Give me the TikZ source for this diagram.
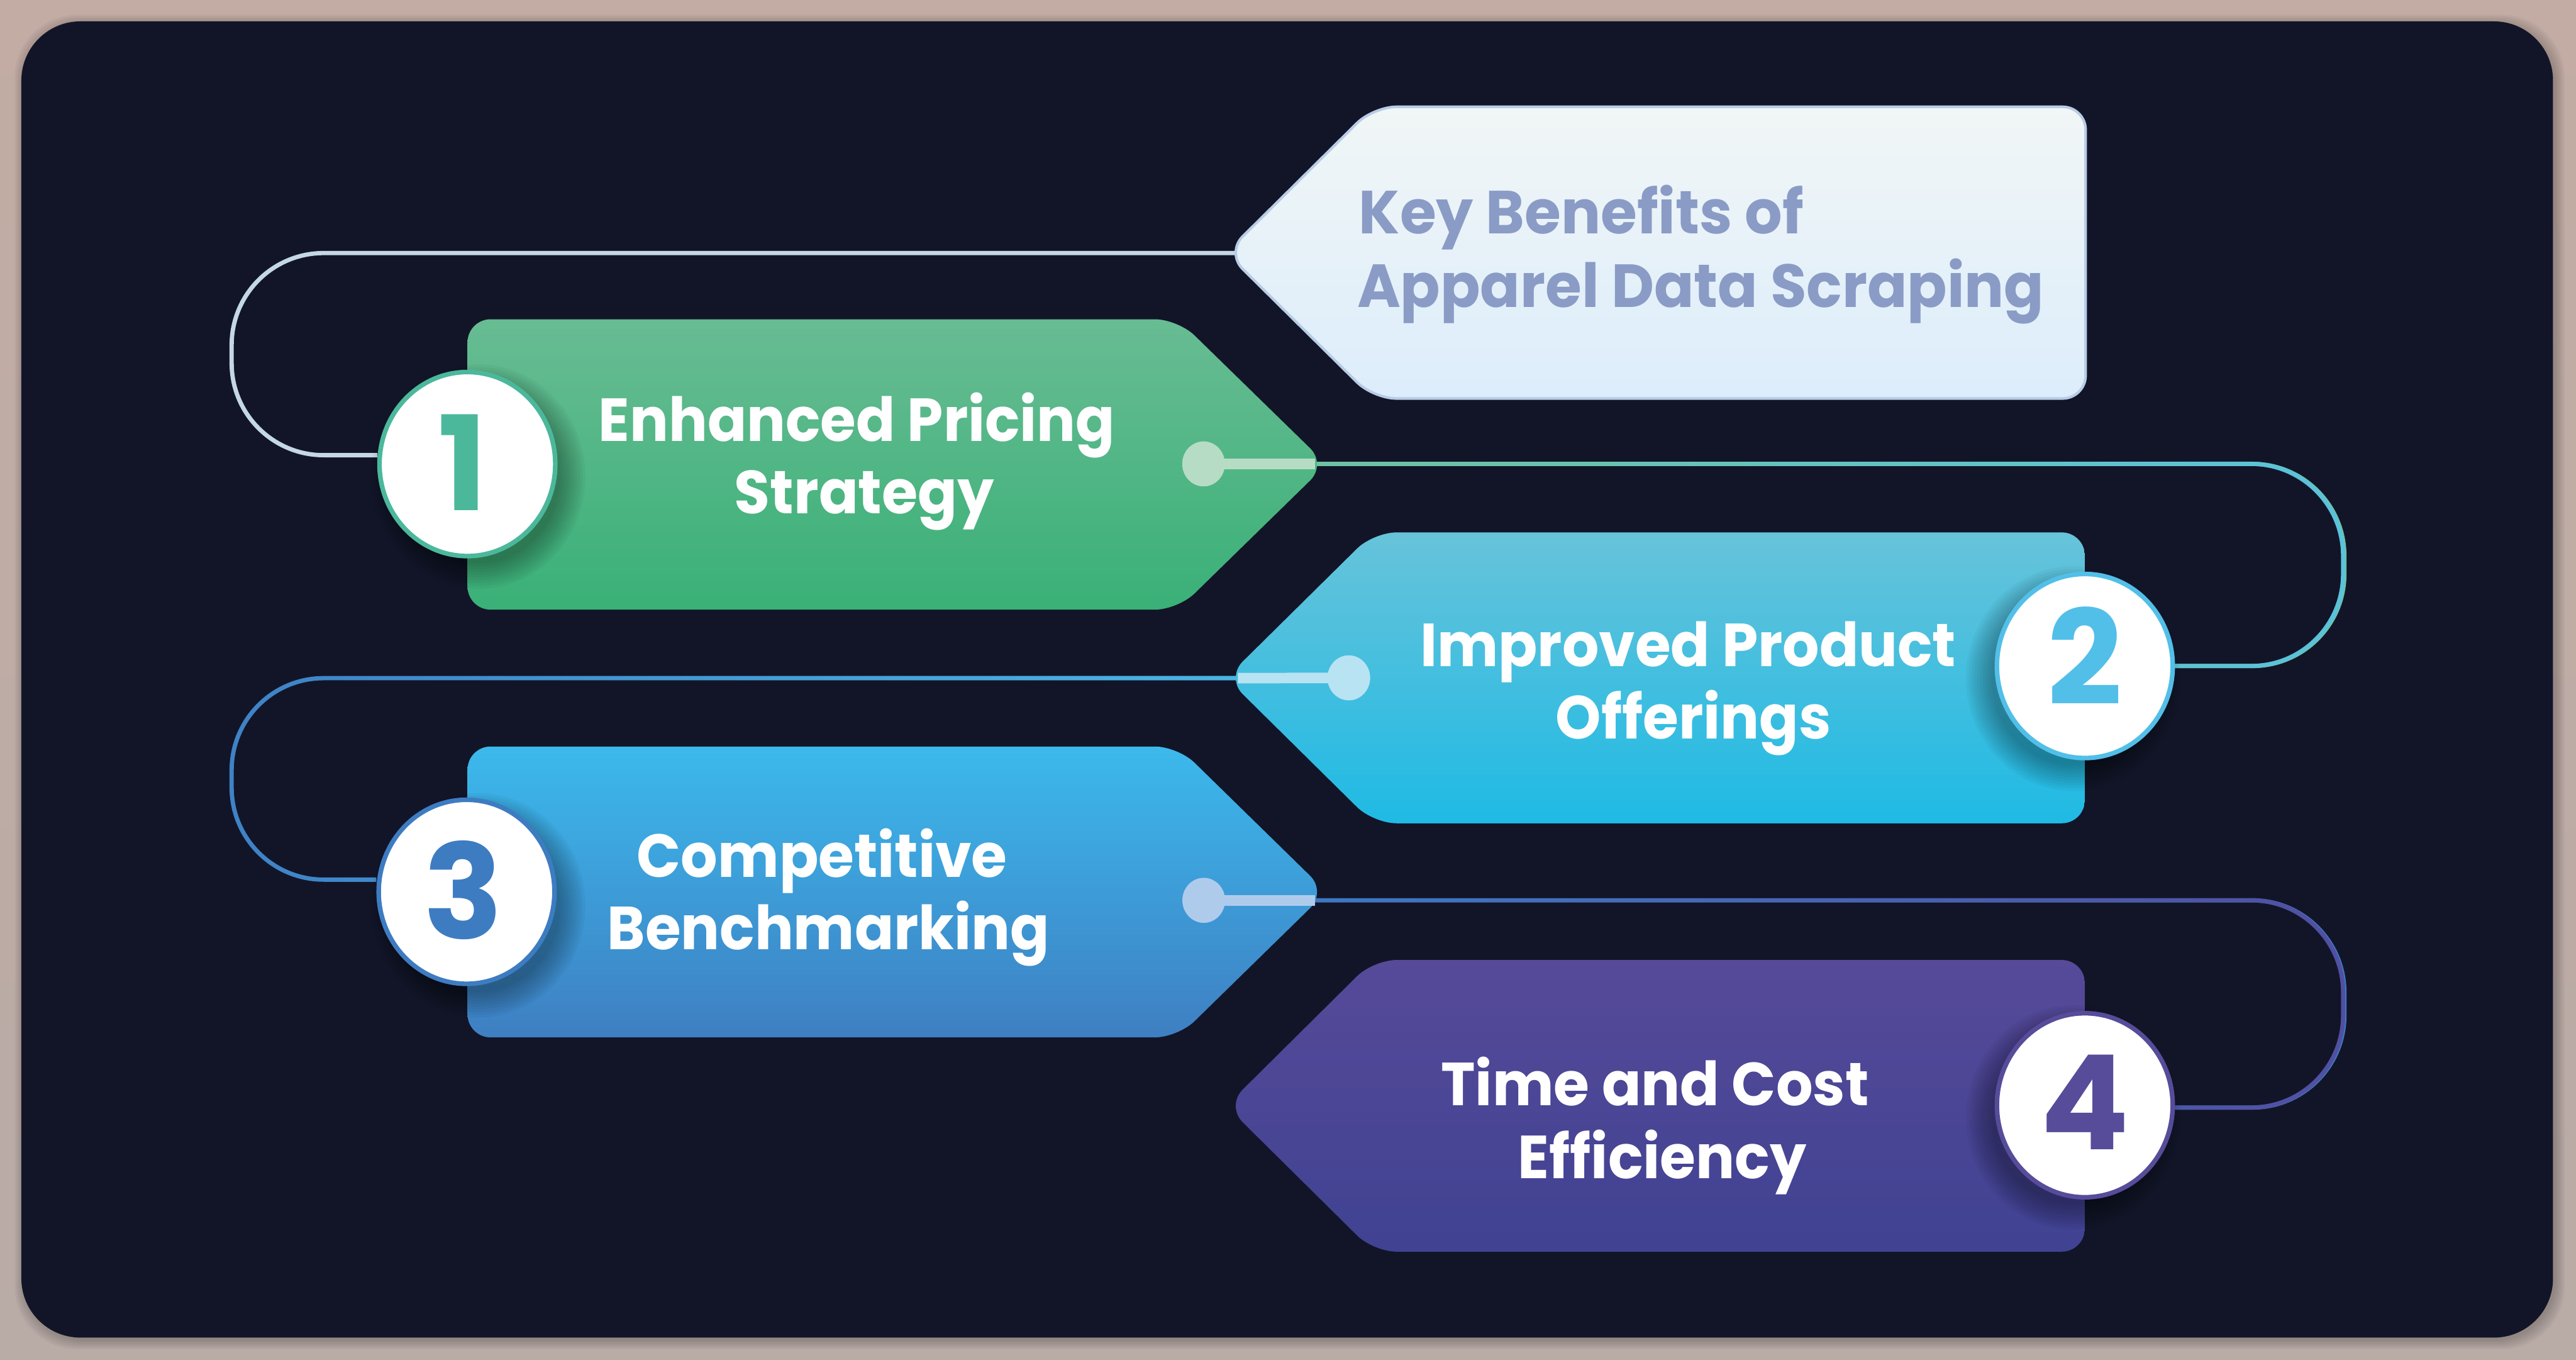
\documentclass[tikz,border=0pt]{standalone}
\usepackage{fontspec}
\setmainfont{Poppins}
\usepackage{graphicx}
\usetikzlibrary{shapes.geometric,fadings}
\pgfdeclarelayer{back}
\pgfdeclarelayer{conn}
\pgfsetlayers{back,conn,main}
\definecolor{outerT}{HTML}{C2ACA4}
\definecolor{outerB}{HTML}{B9ABA6}
\definecolor{darkc}{HTML}{121528}
\definecolor{tTop}{HTML}{F1F6F6}
\definecolor{tBot}{HTML}{DCEDFB}
\definecolor{tBord}{HTML}{B9CCE6}
\definecolor{tText}{HTML}{8A9BC6}
\definecolor{gTop}{HTML}{68BC93}
\definecolor{gBot}{HTML}{3AB077}
\definecolor{cTop}{HTML}{67C3DA}
\definecolor{cBot}{HTML}{1FBAE4}
\definecolor{bTop}{HTML}{3CB9EC}
\definecolor{bBot}{HTML}{3E7FC2}
\definecolor{pTop}{HTML}{564A99}
\definecolor{pBot}{HTML}{404292}
\definecolor{k1}{HTML}{4BB89B}
\definecolor{k2}{HTML}{52BFE8}
\definecolor{k3}{HTML}{3E7CC2}
\definecolor{k4}{HTML}{564C9A}
\definecolor{d1}{HTML}{B7DCC6}
\definecolor{d2}{HTML}{B8E3F2}
\definecolor{d3}{HTML}{AFCBEC}
\definecolor{lA}{HTML}{C4D7E4}
\definecolor{lBl}{HTML}{6EC2A2}
\definecolor{lBr}{HTML}{5BC3DC}
\definecolor{lCl}{HTML}{3F82C6}
\definecolor{lCr}{HTML}{4BB5E2}
\definecolor{lDl}{HTML}{3F78C0}
\definecolor{lDr}{HTML}{5150A2}
\tikzfading[name=fadeR, left color=transparent!100, right color=transparent!0]
\tikzset{
  conn/.style={line width=2.6pt, rounded corners=56pt},
  numc/.style={ellipse, fill=white, line width=2.8pt, minimum width=107pt, minimum height=112pt, inner sep=0pt},
  numtxt/.style={inner sep=0pt, font=\fontsize{80}{80}\selectfont\bfseries},
  txt/.style={inner sep=0pt, text=white, font=\fontsize{37}{44}\selectfont\bfseries},
  thickseg/.style={line width=6.4pt},
  boxshape/.style={rounded corners=14pt}
}
% name, x, baseline, width, text, extra style
\newcommand\mytl[6]{\node[txt,#6,anchor=base west] (#1) at (#2,#3) {\resizebox{#4pt}{\height}{#5}};}
\newcommand\cshadow[2]{\foreach \k in {0,...,9}{\fill[black,opacity=0.035] (#1,#2) ellipse [x radius={50pt+1.7pt*\k}, y radius={53pt+1.7pt*\k}];}}
\newcommand\rbox[5]{\shade[top color=#1,bottom color=#2,boxshape] (500,#3) -- (717,#3) -- (807.5,#5) -- (717,#4) -- (284.6,#4) -- (284.6,#3) -- cycle;}
\newcommand\lbox[5]{\shade[top color=#1,bottom color=#2,boxshape] (1050,#3) -- (1269,#3) -- (1269,#4) -- (836,#4) -- (746.4,#5) -- (836,#3) -- cycle;}
\begin{document}
\begin{tikzpicture}[x=1pt,y=-1pt]
\useasboundingbox (0,0) rectangle (1568,827.3);
\begin{pgfonlayer}{back}
  \shade[top color=outerT,bottom color=outerB] (0,0) rectangle (1568,827.3);
  \foreach \k in {0,...,5}{\fill[black,opacity=0.035,rounded corners=38pt] ({14-\k},{14-\k}) rectangle ({1556+\k},{816+\k});}
  \fill[darkc, rounded corners=36pt] (13,13) rectangle (1554,814);
\end{pgfonlayer}

% title box
\shade[top color=tTop,bottom color=tBot,draw=tBord,line width=1.6pt,boxshape] (1050,65) -- (1269.5,65) -- (1269.5,242.5) -- (836,242.5) -- (746.4,153.8) -- (836,65) -- cycle;
\coordinate (tTip) at (754,154);
% boxes
\rbox{gTop}{gBot}{194.3}{371}{282.6}
\lbox{cTop}{cBot}{324}{501}{412.5}
\rbox{bTop}{bBot}{454.3}{631.3}{542.8}
\lbox{pTop}{pBot}{584.2}{761.7}{673}
\coordinate (b1tip) at (800.5,282.3);
\coordinate (b2tip) at (753.5,412.7);
\coordinate (b3tip) at (800.5,547.9);
\coordinate (dot1) at (732.6,282.3);
\coordinate (dot2) at (821,412.5);
\coordinate (dot3) at (732.7,547.9);

% dots with thick segments
\draw[d1,thickseg] (dot1) -- (b1tip);
\fill[d1] (dot1) ellipse [x radius=13pt, y radius=13.7pt];
\draw[d2,thickseg] (dot2) -- (b2tip);
\fill[d2] (dot2) ellipse [x radius=13pt, y radius=13.7pt];
\draw[d3,thickseg] (dot3) -- (b3tip);
\fill[d3] (dot3) ellipse [x radius=13pt, y radius=13.7pt];

% circles
\cshadow{291}{290}
\node[numc,draw=k1] (c1) at (284.5,282.4) {};
\cshadow{1262}{413}
\node[numc,draw=k2] (c2) at (1269,405.3) {};
\cshadow{291}{551}
\node[numc,draw=k3] (c3) at (284,542.7) {};
\cshadow{1262}{680}
\node[numc,draw=k4] (c4) at (1269,672.6) {};
\node[numtxt,text=k1,anchor=base] (n1) at (281.5,310.7) {1};
\node[numtxt,text=k2,anchor=base] (n2) at (1269,429) {2};
\node[numtxt,text=k3,anchor=base] (n3) at (282,571.5) {3};
\node[numtxt,text=k4,anchor=base] (n4) at (1269,699.7) {4};

% texts
\mytl{t1}{827}{142.2}{270.7}{Key Benefits of}{text=tText}
\mytl{t2}{825.9}{186.9}{418.2}{Apparel Data Scraping}{text=tText}
\mytl{e1}{364.2}{268.6}{314.3}{Enhanced Pricing}{}
\mytl{e2}{446.9}{312.5}{158}{Strategy}{}
\mytl{i1}{864.3}{405.4}{326.1}{Improved Product}{}
\mytl{i2}{946.8}{449.6}{167.5}{Offerings}{}
\mytl{m1}{387.5}{534}{225.4}{Competitive}{}
\mytl{m2}{369.5}{578}{269}{Benchmarking}{}
\mytl{f1}{877}{672.8}{260.3}{Time and Cost}{}
\mytl{f2}{923.8}{717}{175.7}{Efficiency}{}

% connectors
\begin{pgfonlayer}{conn}
  \draw[conn,lA] (tTip) -- (141,154) -- (141,277) -- (c1.west |- 0,277);
  \draw[conn,lBl] (b1tip) -- (1427,282.3) -- (1427,405.3) -- (c2.east |- 0,405.3);
  \draw[conn,lBr,path fading=fadeR] (b1tip) -- (1427,282.3) -- (1427,405.3) -- (c2.east |- 0,405.3);
  \draw[conn,lCl] (b2tip) -- (141,412.7) -- (141,535.3) -- (c3.west |- 0,535.3);
  \draw[conn,lCr,path fading=fadeR] (b2tip) -- (141,412.7) -- (141,535.3) -- (c3.west |- 0,535.3);
  \draw[conn,lDl] (b3tip) -- (1427,547.9) -- (1427,674) -- (c4.east |- 0,674);
  \draw[conn,lDr,path fading=fadeR] (b3tip) -- (1427,547.9) -- (1427,674) -- (c4.east |- 0,674);
\end{pgfonlayer}
\end{tikzpicture}
\end{document}
